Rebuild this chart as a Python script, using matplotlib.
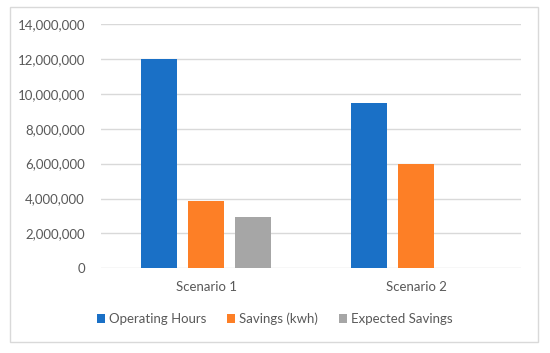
import numpy as np
import matplotlib
matplotlib.use("Agg")
import matplotlib.pyplot as plt
from matplotlib.patches import Rectangle, Patch
from matplotlib.ticker import FuncFormatter

categories = ["Scenario 1", "Scenario 2"]
operating_hours = [12000000, 9500000]
savings_kwh = [3870000, 6000000]
expected_savings = [2950000, 0]
series_names = ["Operating Hours", "Savings (kwh)", "Expected Savings"]
colors = ["#1a70c6", "#fd7f26", "#a6a6a6"]

plt.rcParams["font.family"] = ["Lato", "DejaVu Sans"]
textcol = "#595959"
gridcol = "#d9d9d9"

fig = plt.figure(figsize=(5.5, 3.53), dpi=100)
ax = fig.add_axes([101 / 550, 84.7 / 353, 420 / 550, 244.3 / 353])

x = np.arange(len(categories))
w = 0.174
step = 0.223
for i, vals in enumerate([operating_hours, savings_kwh, expected_savings]):
    ax.bar(x + (i - 1) * step, vals, width=w, color=colors[i], zorder=3,
           label=series_names[i])

ax.set_xlim(-0.5, 1.5)
ax.set_ylim(0, 14000000)
ax.set_yticks(np.arange(0, 14000001, 2000000))
ax.yaxis.set_major_formatter(FuncFormatter(lambda v, p: f"{int(v):,}"))
ax.set_xticks(x)
ax.set_xticklabels(categories)
ax.grid(axis="y", color=gridcol, linewidth=1.0, zorder=0)
for s in ax.spines.values():
    s.set_visible(False)
ax.tick_params(axis="y", length=0, pad=11.5, labelsize=9.5, labelcolor=textcol)
ax.tick_params(axis="x", length=0, pad=9, labelsize=9.5, labelcolor=textcol)

handles = [Patch(facecolor=c, edgecolor="none") for c in colors]
fig.legend(handles, series_names, loc="center", bbox_to_anchor=(0.5, 1 - 319 / 353),
           ncol=3, frameon=False, fontsize=9.5, labelcolor=textcol,
           handlelength=0.6, handleheight=0.6, handletextpad=0.3, columnspacing=1.6)

fig.patches.append(Rectangle((10 / 550, 1 - 341.5 / 353), 528 / 550, 334.5 / 353,
                             transform=fig.transFigure, fill=False,
                             edgecolor=gridcol, linewidth=1.0))

fig.savefig("out.png", dpi=100)
